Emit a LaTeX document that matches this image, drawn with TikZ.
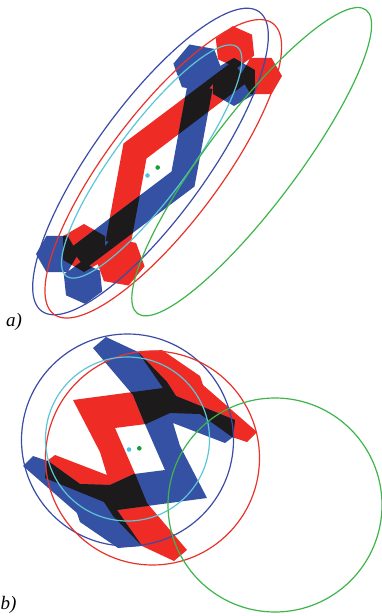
\documentclass[tikz,border=0pt]{standalone}
\usepackage{fontspec}
\setmainfont{Liberation Serif}
\definecolor{mred}{HTML}{EE2B24}
\definecolor{mblue}{HTML}{3551A4}
\definecolor{mblack}{HTML}{1C1A1B}
\definecolor{eblue}{HTML}{3B4BA6}
\definecolor{ered}{HTML}{E8332C}
\definecolor{ecyan}{HTML}{5CC6D6}
\definecolor{egreen}{HTML}{3DB54A}
\definecolor{dcyan}{HTML}{4FC3DF}
\definecolor{dgreen}{HTML}{12A039}
\newcommand\hexa[3]{(#1) +(#3:#2pt) -- +(#3+60:#2pt) -- +(#3+120:#2pt) -- +(#3+180:#2pt) -- +(#3+240:#2pt) -- +(#3+300:#2pt) -- cycle}
\newcommand\molA{(232.5,61.5) -- (123.5,143.5) -- (105.5,241) -- (130.5,245.5) -- (146.5,158.5) -- (247.5,82) -- cycle
  \hexa{235,47}{21}{96} \hexa{261,76}{21}{0} \hexa{84,248}{24}{30} \hexa{120,262}{25}{50}}
\newcommand\molB{(73,400) -- (163,388) -- (138,352) -- (162,350) -- (200,376) -- (203,385) -- (257,432) -- (247,442) -- (232,437) -- (200,414) -- (170,413) -- (146,424) -- (115,428) -- (136,476) -- (147,503) -- (187,550) -- (174,561) -- (142,546) -- (113,516) -- (104,502) -- (45,478) -- (47,461) -- (55,455) -- (107,475) -- (100,452) -- cycle}
\begin{document}
\begin{tikzpicture}[x=1pt,y=-1pt,
  ring/.style={line width=1.2pt},
  dot/.style={inner sep=0pt,minimum size=4.6pt,circle},
  lab/.style={font=\itshape\fontsize{19}{19}\selectfont,inner sep=0pt,anchor=base west}]
\useasboundingbox (0,0) rectangle (382,616);
% ---------- panel a ----------
\fill[mred] \molA;
\fill[mblue, rotate around={180:(159,165)}] \molA;
\begin{scope}
  \clip \molA;
  \fill[mblack, rotate around={180:(159,165)}] \molA;
\end{scope}
\draw[ring,eblue, rotate around={54:(150.5,161.5)}] (150.5,161.5) ellipse [x radius=185pt, y radius=56pt];
\draw[ring,ered, rotate around={53:(163.3,168.8)}] (163.3,168.8) ellipse [x radius=182pt, y radius=56pt];
\draw[ring,ecyan, rotate around={53.3:(151.7,161.5)}] (151.7,161.5) ellipse [x radius=143pt, y radius=36pt];
\draw[ring,egreen, rotate around={53:(251.7,161.7)}] (251.7,161.7) ellipse [x radius=190pt, y radius=45pt];
\node[dot,fill=dcyan] (ca) at (147.5,175.5) {};
\node[dot,fill=dgreen] (ga) at (157.7,167.5) {};
\node[lab] (la) at (6,326.5) {a)};
% ---------- panel b ----------
\fill[mred] \molB;
\fill[mblue, rotate around={180:(140,449)}] \molB;
\begin{scope}
  \clip \molB;
  \fill[mblack, rotate around={180:(140,449)}] \molB;
\end{scope}
\draw[ring,eblue] (127.5,440) circle [radius=106pt];
\draw[ring,ered] (152.5,458) circle [radius=107pt];
\draw[ring,ecyan] (127.5,439) circle [radius=82pt];
\draw[ring,egreen] (275,505) circle [radius=107pt];
\node[dot,fill=dcyan] (cb) at (129,449.5) {};
\node[dot,fill=dgreen] (gb) at (139.3,448.3) {};
\node[lab] (lb) at (0.5,609) {b)};
\end{tikzpicture}
\end{document}
